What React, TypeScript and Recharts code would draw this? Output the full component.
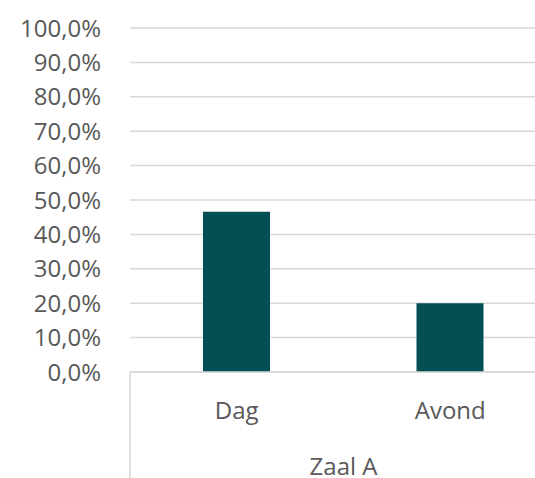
import React from 'react';
import { BarChart, Bar, XAxis, YAxis, CartesianGrid } from 'recharts';

const categories = ['Dag', 'Avond'];
const groupLabel = 'Zaal A';
const shares = [46.6, 20.0];
const yTicks = [0, 10, 20, 30, 40, 50, 60, 70, 80, 90, 100];

const chartData = categories.map((cat, i) => ({ cat, zaal: groupLabel, share: shares[i] }));

const textColor = '#595959';
const lineColor = '#d9d9d9';
const font = '"Open Sans", "Noto Sans", sans-serif';

const pct = (v: number) => `${v.toFixed(1).replace('.', ',')}%`;

// outer level of the multi-level category axis: label plus the group's side borders
const GroupTick = (props: any) => {
  const { x, y, payload } = props;
  const half = payload?.offset ?? 0;
  return (
    <g>
      <line x1={x - half} x2={x - half} y1={y - 56} y2={y + 60} stroke={lineColor} strokeWidth={1.5} />
      <line x1={x + half} x2={x + half} y1={y - 56} y2={y + 60} stroke={lineColor} strokeWidth={1.5} />
      <text x={x} y={y + 30} dy="0.71em" textAnchor="middle" fill={textColor} fontSize={24} fontFamily={font}>
        {payload.value}
      </text>
    </g>
  );
};

export default function App() {
  return (
    <div style={{ position: 'fixed', left: 0, top: 0, width: 535, height: 478, overflow: 'hidden', background: '#fff' }}>
      <BarChart
        width={557}
        height={478}
        data={chartData}
        margin={{ top: 28, right: 0, left: 0, bottom: 0 }}
      >
        <CartesianGrid vertical={false} stroke={lineColor} strokeWidth={1.5} />
        <XAxis
          dataKey="cat"
          height={56}
          axisLine={{ stroke: lineColor, strokeWidth: 1.5 }}
          tickLine={false}
          tickSize={0}
          tickMargin={30}
          tick={{ fill: textColor, fontSize: 24, fontFamily: font }}
        />
        <XAxis
          xAxisId="group"
          dataKey="zaal"
          allowDuplicatedCategory={false}
          height={50}
          axisLine={false}
          tickLine={false}
          tickSize={0}
          tickMargin={0}
          tick={<GroupTick />}
        />
        <YAxis
          width={130}
          domain={[0, 100]}
          ticks={yTicks}
          tickFormatter={pct}
          axisLine={false}
          tickLine={false}
          tickSize={0}
          tickMargin={29}
          tick={{ fill: textColor, fontSize: 24, fontFamily: font }}
        />
        <Bar dataKey="share" fill="#034f54" barSize={67} isAnimationActive={false} />
      </BarChart>
    </div>
  );
}
